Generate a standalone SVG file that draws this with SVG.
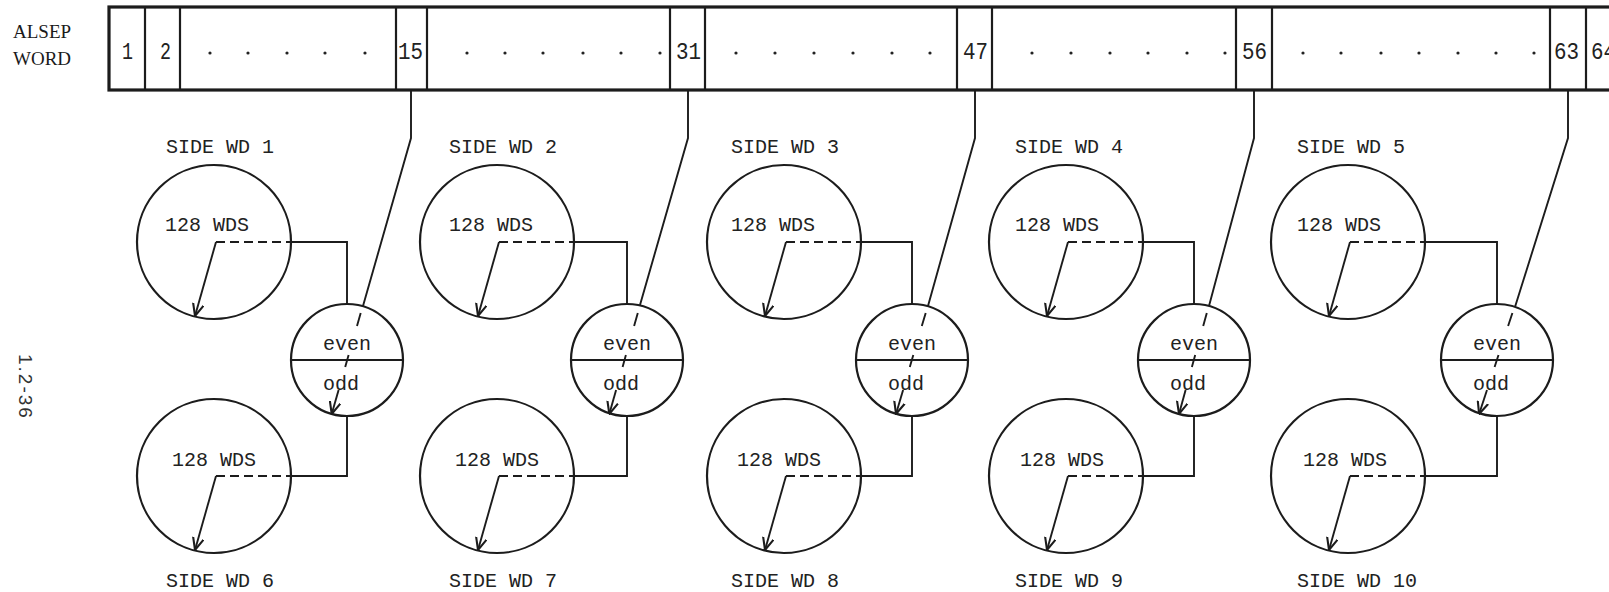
<svg xmlns="http://www.w3.org/2000/svg" width="1609" height="592" viewBox="0 0 1609 592">
<style>
.ln{stroke:#1c1c1c;stroke-width:1.9;fill:none}
.ci{stroke:#1c1c1c;stroke-width:2.2;fill:none}
.dv{stroke:#1c1c1c;stroke-width:2.2}
.da{stroke:#1c1c1c;stroke-width:1.9;stroke-dasharray:9 5;fill:none}
.mono{font-family:"Liberation Mono","DejaVu Sans Mono",monospace;fill:#222}
.lbl{font-size:20px}
.num{font-size:23px}
.eo{font-size:20px;text-anchor:middle}
.ser{font-family:"Liberation Serif","DejaVu Serif",serif;font-size:19px;fill:#1a1a1a}
.dot{fill:#222}
</style>
<defs>
<marker id="arr" viewBox="0 0 10 10" refX="9.5" refY="5" markerWidth="13" markerHeight="13" markerUnits="userSpaceOnUse" orient="auto">
<path d="M0,0.8 L9.5,5 L0,9.2" fill="none" stroke="#1c1c1c" stroke-width="1.6"/>
</marker>
</defs>
<rect width="1609" height="592" fill="#ffffff"/>

<g id="header-label">
<text class="ser" x="13" y="38">ALSEP</text>
<text class="ser" x="13" y="65">WORD</text>
</g>

<g id="page-number">
<text x="0" y="0" transform="translate(19,354) rotate(90)" font-family="Liberation Sans, DejaVu Sans, sans-serif" font-size="19" letter-spacing="2" fill="#333">1.2-36</text>
</g>

<g id="alsep-word">
<rect x="109" y="7" width="1510" height="83" fill="none" stroke="#1c1c1c" stroke-width="3.2"/>
<g class="dv">
<line x1="145" y1="8" x2="145" y2="89"/>
<line x1="180" y1="8" x2="180" y2="89"/>
<line x1="396" y1="8" x2="396" y2="89"/>
<line x1="427" y1="8" x2="427" y2="89"/>
<line x1="670" y1="8" x2="670" y2="89"/>
<line x1="705" y1="8" x2="705" y2="89"/>
<line x1="957" y1="8" x2="957" y2="89"/>
<line x1="992" y1="8" x2="992" y2="89"/>
<line x1="1236" y1="8" x2="1236" y2="89"/>
<line x1="1272" y1="8" x2="1272" y2="89"/>
<line x1="1550" y1="8" x2="1550" y2="89"/>
<line x1="1586" y1="8" x2="1586" y2="89"/>
</g>
<g class="mono num">
<text x="122" y="59" textLength="11" lengthAdjust="spacingAndGlyphs">1</text>
<text x="160" y="59" textLength="11" lengthAdjust="spacingAndGlyphs">2</text>
<text x="398" y="59" textLength="25" lengthAdjust="spacingAndGlyphs">15</text>
<text x="676" y="59" textLength="25" lengthAdjust="spacingAndGlyphs">31</text>
<text x="963" y="59" textLength="25" lengthAdjust="spacingAndGlyphs">47</text>
<text x="1242" y="59" textLength="25" lengthAdjust="spacingAndGlyphs">56</text>
<text x="1554" y="59" textLength="25" lengthAdjust="spacingAndGlyphs">63</text>
<text x="1591" y="59" textLength="25" lengthAdjust="spacingAndGlyphs">64</text>
</g>
<g class="dot">
<circle cx="210" cy="53" r="1.6"/><circle cx="248" cy="53" r="1.6"/><circle cx="287" cy="53" r="1.6"/><circle cx="325" cy="53" r="1.6"/><circle cx="365" cy="53" r="1.6"/>
<circle cx="467" cy="53" r="1.6"/><circle cx="505" cy="53" r="1.6"/><circle cx="543" cy="53" r="1.6"/><circle cx="583" cy="53" r="1.6"/><circle cx="621" cy="53" r="1.6"/><circle cx="660" cy="53" r="1.6"/>
<circle cx="736" cy="53" r="1.6"/><circle cx="775" cy="53" r="1.6"/><circle cx="814" cy="53" r="1.6"/><circle cx="853" cy="53" r="1.6"/><circle cx="892" cy="53" r="1.6"/><circle cx="930" cy="53" r="1.6"/>
<circle cx="1032" cy="53" r="1.6"/><circle cx="1071" cy="53" r="1.6"/><circle cx="1110" cy="53" r="1.6"/><circle cx="1148" cy="53" r="1.6"/><circle cx="1187" cy="53" r="1.6"/><circle cx="1225" cy="53" r="1.6"/>
<circle cx="1303" cy="53" r="1.6"/><circle cx="1341" cy="53" r="1.6"/><circle cx="1381" cy="53" r="1.6"/><circle cx="1419" cy="53" r="1.6"/><circle cx="1458" cy="53" r="1.6"/><circle cx="1496" cy="53" r="1.6"/><circle cx="1534" cy="53" r="1.6"/>
</g>
</g>

<!-- Side word nodes -->
<g id="side-wd-1"><circle class="ci" cx="214" cy="242" r="77"/><text class="mono lbl" x="166" y="153">SIDE WD 1</text><text class="mono lbl" x="165" y="231">128 WDS</text><path class="da" d="M216,242 H291"/><path class="ln" d="M216,242 L195,316" marker-end="url(#arr)"/></g>
<g id="side-wd-6"><circle class="ci" cx="214" cy="476" r="77"/><text class="mono lbl" x="166" y="587">SIDE WD 6</text><text class="mono lbl" x="172" y="466">128 WDS</text><path class="da" d="M216,476 H291"/><path class="ln" d="M216,476 L195,550" marker-end="url(#arr)"/></g>
<g id="switch-1"><circle class="ci" cx="347" cy="360" r="56"/><line class="ln" x1="291" y1="360" x2="403" y2="360"/><text class="mono eo" x="347" y="350">even</text><text class="mono eo" x="341" y="390">odd</text></g>

<g id="side-wd-2"><circle class="ci" cx="497" cy="242" r="77"/><text class="mono lbl" x="449" y="153">SIDE WD 2</text><text class="mono lbl" x="449" y="231">128 WDS</text><path class="da" d="M499,242 H574"/><path class="ln" d="M499,242 L478,316" marker-end="url(#arr)"/></g>
<g id="side-wd-7"><circle class="ci" cx="497" cy="476" r="77"/><text class="mono lbl" x="449" y="587">SIDE WD 7</text><text class="mono lbl" x="455" y="466">128 WDS</text><path class="da" d="M499,476 H574"/><path class="ln" d="M499,476 L478,550" marker-end="url(#arr)"/></g>
<g id="switch-2"><circle class="ci" cx="627" cy="360" r="56"/><line class="ln" x1="571" y1="360" x2="683" y2="360"/><text class="mono eo" x="627" y="350">even</text><text class="mono eo" x="621" y="390">odd</text></g>

<g id="side-wd-3"><circle class="ci" cx="784" cy="242" r="77"/><text class="mono lbl" x="731" y="153">SIDE WD 3</text><text class="mono lbl" x="731" y="231">128 WDS</text><path class="da" d="M786,242 H861"/><path class="ln" d="M786,242 L765,316" marker-end="url(#arr)"/></g>
<g id="side-wd-8"><circle class="ci" cx="784" cy="476" r="77"/><text class="mono lbl" x="731" y="587">SIDE WD 8</text><text class="mono lbl" x="737" y="466">128 WDS</text><path class="da" d="M786,476 H861"/><path class="ln" d="M786,476 L765,550" marker-end="url(#arr)"/></g>
<g id="switch-3"><circle class="ci" cx="912" cy="360" r="56"/><line class="ln" x1="856" y1="360" x2="968" y2="360"/><text class="mono eo" x="912" y="350">even</text><text class="mono eo" x="906" y="390">odd</text></g>

<g id="side-wd-4"><circle class="ci" cx="1066" cy="242" r="77"/><text class="mono lbl" x="1015" y="153">SIDE WD 4</text><text class="mono lbl" x="1015" y="231">128 WDS</text><path class="da" d="M1068,242 H1143"/><path class="ln" d="M1068,242 L1047,316" marker-end="url(#arr)"/></g>
<g id="side-wd-9"><circle class="ci" cx="1066" cy="476" r="77"/><text class="mono lbl" x="1015" y="587">SIDE WD 9</text><text class="mono lbl" x="1020" y="466">128 WDS</text><path class="da" d="M1068,476 H1143"/><path class="ln" d="M1068,476 L1047,550" marker-end="url(#arr)"/></g>
<g id="switch-4"><circle class="ci" cx="1194" cy="360" r="56"/><line class="ln" x1="1138" y1="360" x2="1250" y2="360"/><text class="mono eo" x="1194" y="350">even</text><text class="mono eo" x="1188" y="390">odd</text></g>

<g id="side-wd-5"><circle class="ci" cx="1348" cy="242" r="77"/><text class="mono lbl" x="1297" y="153">SIDE WD 5</text><text class="mono lbl" x="1297" y="231">128 WDS</text><path class="da" d="M1350,242 H1425"/><path class="ln" d="M1350,242 L1329,316" marker-end="url(#arr)"/></g>
<g id="side-wd-10"><circle class="ci" cx="1348" cy="476" r="77"/><text class="mono lbl" x="1297" y="587">SIDE WD 10</text><text class="mono lbl" x="1303" y="466">128 WDS</text><path class="da" d="M1350,476 H1425"/><path class="ln" d="M1350,476 L1329,550" marker-end="url(#arr)"/></g>
<g id="switch-5"><circle class="ci" cx="1497" cy="360" r="56"/><line class="ln" x1="1441" y1="360" x2="1553" y2="360"/><text class="mono eo" x="1497" y="350">even</text><text class="mono eo" x="1491" y="390">odd</text></g>

<g id="connectors" class="ln">
<path d="M291,242 H347 V304"/><path d="M291,476 H347 V416"/>
<path d="M574,242 H627 V304"/><path d="M574,476 H627 V416"/>
<path d="M861,242 H912 V304"/><path d="M861,476 H912 V416"/>
<path d="M1143,242 H1194 V304"/><path d="M1143,476 H1194 V416"/>
<path d="M1425,242 H1497 V304"/><path d="M1425,476 H1497 V416"/>
<path d="M411,90 V138 L363,306"/>
<path d="M688,90 V138 L640,305"/>
<path d="M975,90 V138 L928,306"/>
<path d="M1254,90 V138 L1209,306"/>
<path d="M1568,90 V138 L1515,307"/>
<path d="M360.7,313 L357,326 M348.6,355 L345.2,367"/><path d="M338.6,390 L331.7,414" marker-end="url(#arr)"/>
<path d="M637.8,313 L634.1,326 M625.9,355 L622.6,367"/><path d="M616.1,390 L609.3,414" marker-end="url(#arr)"/>
<path d="M925.7,313 L921.8,326 M913.3,355 L909.8,367"/><path d="M903.1,390 L896,414" marker-end="url(#arr)"/>
<path d="M1206.8,313 L1203.2,326 M1195.2,355 L1191.9,367"/><path d="M1185.6,390 L1179,414" marker-end="url(#arr)"/>
<path d="M1512.4,313 L1508.1,326 M1498.5,355 L1494.6,367"/><path d="M1487,390 L1479.1,414" marker-end="url(#arr)"/>
</g>
</svg>
